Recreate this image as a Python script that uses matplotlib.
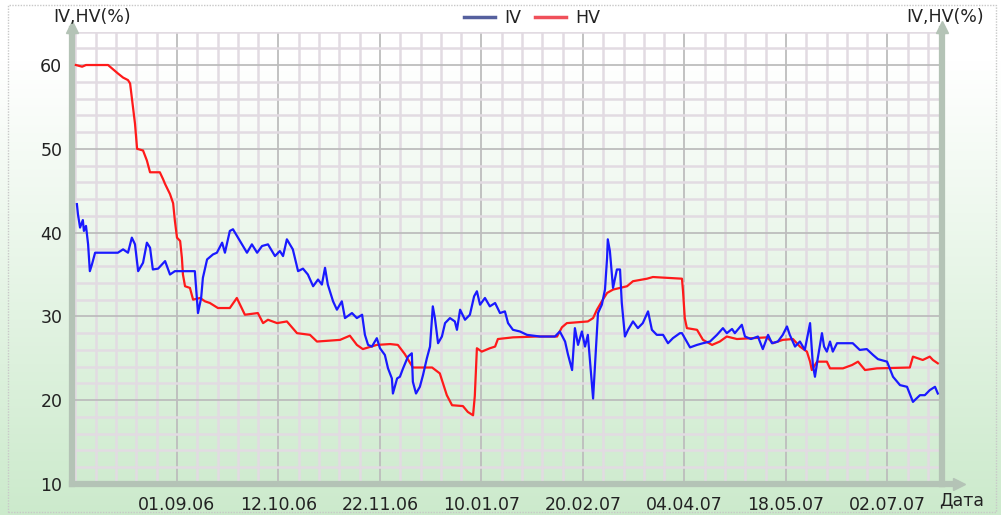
import numpy as np
import matplotlib
matplotlib.use('Agg')
import matplotlib.pyplot as plt
from matplotlib.lines import Line2D

# trading-day position and value (%) of the implied volatility line
iv_day = [1.4, 1.7, 2.3, 3.1, 3.4, 4.0, 4.6, 5.1, 5.7, 6.6, 13.1, 14.6, 16.0, 17.1, 18.0, 18.9,
          20.3, 21.4, 22.3, 23.1, 24.6, 26.6, 28.0, 29.4, 35.1, 36.0, 36.9, 37.4, 38.6, 40.3,
          41.4, 42.9, 43.7, 45.1, 46.0, 48.0, 50.0, 51.4, 52.9, 54.3, 56.0, 58.0, 59.4, 60.3,
          61.4, 63.1, 64.6, 66.0, 67.4, 68.9, 70.3, 71.4, 72.3, 73.1, 74.6, 75.7, 77.1, 78.0,
          80.0, 81.4, 82.9, 83.7, 84.6, 85.7, 87.1, 88.0, 89.4, 90.3, 91.4, 91.7, 92.9, 93.7,
          94.6, 96.0, 97.1, 97.4, 98.3, 99.4, 100.3, 101.4, 102.3, 103.1, 103.7, 104.6, 105.7,
          106.6, 108.0, 109.4, 110.0, 110.9, 112.3, 113.7, 114.9, 115.7, 116.6, 118.0, 119.4,
          120.9, 122.3, 123.7, 124.6, 126.0, 128.0, 130.0, 133.7, 138.0, 139.4, 140.9, 141.7,
          142.9, 143.7, 144.6, 145.7, 146.6, 147.4, 148.6, 148.9, 149.4, 150.3, 151.4, 152.3,
          152.9, 153.1, 153.7, 154.6, 155.7, 156.6, 157.1, 158.0, 158.9, 160.3, 161.7, 163.1,
          164.6, 165.7, 167.1, 168.9, 170.3, 171.7, 173.7, 174.3, 176.6, 178.6, 180.3, 182.3,
          184.3, 186.0, 187.1, 188.6, 189.4, 191.4, 192.3, 194.0, 196.0, 197.4, 198.9, 200.0,
          201.7, 203.1, 204.3, 205.1, 206.6, 208.0, 209.4, 210.9, 211.7, 212.3, 213.1, 214.3,
          214.9, 215.7, 216.6, 217.4, 218.6, 220.3, 223.1, 225.1, 227.1, 228.9, 230.3, 232.9,
          234.6, 236.6, 238.6, 240.3, 242.3, 243.7, 245.1, 246.6, 247.4]
iv_val = [43.4, 42.2, 40.6, 41.5, 40.2, 40.8, 38.6, 35.4, 36.2, 37.6, 37.6, 38.0, 37.6, 39.4, 38.6, 35.4,
          36.4, 38.8, 38.2, 35.6, 35.7, 36.6, 35.0, 35.4, 35.4, 30.4, 32.2, 34.6, 36.8, 37.4,
          37.6, 38.8, 37.6, 40.2, 40.4, 39.0, 37.6, 38.6, 37.6, 38.4, 38.6, 37.2, 37.8, 37.2,
          39.2, 38.0, 35.4, 35.7, 35.0, 33.6, 34.4, 33.8, 35.8, 33.8, 31.8, 30.8, 31.8, 29.8,
          30.4, 29.8, 30.2, 27.8, 26.6, 26.4, 27.4, 26.2, 25.4, 23.8, 22.6, 20.8, 22.6, 22.8,
          23.8, 25.2, 25.6, 22.2, 20.8, 21.6, 23.0, 25.0, 26.4, 31.2, 29.8, 26.8, 27.6,
          29.2, 29.8, 29.4, 28.4, 30.8, 29.6, 30.2, 32.4, 33.0, 31.4, 32.2, 31.2,
          31.6, 30.4, 30.6, 29.2, 28.4, 28.2, 27.8, 27.6, 27.6, 28.2, 27.0, 25.5,
          23.6, 28.6, 26.6, 28.2, 26.4, 27.8, 21.8, 20.2, 23.8, 30.4, 31.4, 33.2,
          37.0, 39.2, 37.8, 33.4, 35.6, 35.6, 31.6, 27.6, 28.4, 29.4, 28.6, 29.2,
          30.6, 28.4, 27.8, 27.8, 26.8, 27.4, 28.0, 28.0, 26.3, 26.6, 26.8, 27.0,
          27.8, 28.6, 28.0, 28.5, 28.0, 29.0, 27.6, 27.3, 27.6, 26.1, 27.8, 26.8,
          27.0, 27.8, 28.8, 27.8, 26.4, 27.0, 26.0, 29.2, 24.2, 22.8, 25.0, 28.0,
          26.4, 25.8, 27.0, 25.8, 26.8, 26.8, 26.8, 26.0, 26.1, 25.4, 24.9, 24.6,
          22.8, 21.8, 21.6, 19.8, 20.6, 20.6, 21.2, 21.6, 20.8]

# trading-day position and value (%) of the historical volatility line
hv_day = [1.1, 2.9, 4.0, 10.3, 11.7, 13.1, 14.6, 16.0, 16.6, 18.0, 18.6, 20.3, 21.4, 22.3, 25.1,
          26.0, 26.6, 28.0, 28.9, 29.4, 30.0, 30.9, 31.4, 31.7, 32.3, 33.7, 34.6, 36.6, 38.0,
          39.4, 41.7, 45.1, 47.1, 49.4, 53.1, 54.6, 56.0, 58.6, 61.4, 64.3, 68.0, 70.0, 76.6,
          79.4, 81.4, 83.1, 87.1, 90.9, 93.1, 95.1, 97.4, 102.9, 105.1, 107.1, 108.6, 111.7,
          113.1, 114.6, 115.1, 115.7, 117.1, 119.4, 120.9, 121.7, 126.0, 132.9, 138.6, 140.0,
          141.4, 147.4, 148.9, 150.0, 151.4, 152.9, 154.6, 158.6, 160.3, 164.3, 166.0, 174.3,
          174.6, 175.1, 175.7, 178.6, 180.3, 182.9, 185.1, 187.1, 190.0, 198.6, 200.3, 203.1,
          206.0, 208.0, 210.0, 210.9, 211.4, 212.9, 215.7, 216.6, 220.3, 222.9, 224.6, 226.6,
          230.0, 239.4, 240.3, 243.1, 245.1, 246.0, 247.4]
hv_val = [60.0, 59.8, 60.0, 60.0, 59.5, 59.0, 58.5, 58.2, 57.8, 53.0, 50.0, 49.8, 48.6, 47.2, 47.2,
          46.4, 45.8, 44.6, 43.5, 41.4, 39.4, 39.0, 37.0, 35.0, 33.6, 33.4, 32.0, 32.2, 31.8,
          31.6, 31.0, 31.0, 32.2, 30.2, 30.4, 29.2, 29.6, 29.2, 29.4, 28.0, 27.8, 27.0, 27.2,
          27.7, 26.6, 26.1, 26.6, 26.7, 26.6, 25.5, 23.9, 23.9, 23.2, 20.6, 19.4, 19.3,
          18.6, 18.2, 20.5, 26.2, 25.8, 26.2, 26.4, 27.3, 27.5, 27.6, 27.6, 28.7,
          29.2, 29.4, 29.8, 30.8, 31.8, 32.8, 33.2, 33.6, 34.2, 34.5, 34.7, 34.5,
          33.0, 29.8, 28.6, 28.4, 27.2, 26.6, 27.0, 27.6, 27.3, 27.5, 26.8, 27.2,
          27.3, 26.4, 25.8, 24.6, 23.6, 24.6, 24.6, 23.8, 23.8, 24.2, 24.6, 23.6,
          23.8, 23.9, 25.2, 24.8, 25.2, 24.8, 24.4]

# date labels on the x axis
tick_days = [30, 59, 88, 117, 146, 175, 204, 233]
tick_labels = ['01.09.06', '12.10.06', '22.11.06', '10.01.07',
               '20.02.07', '04.04.07', '18.05.07', '02.07.07']
y_ticks = [10, 20, 30, 40, 50, 60]

W, H = 1001, 515
axis_color = '#b4c3b6'
text_color = '#222222'
plt.rcParams['font.family'] = ['DejaVu Sans']

fig = plt.figure(figsize=(W / 100, H / 100), dpi=100)

# background gradient, white at the top to light green at the bottom
bg = fig.add_axes([0, 0, 1, 1], zorder=0)
g = np.clip((np.linspace(0, 1, 256) - 0.12) / 0.88, 0, 1)[:, None]
top = np.array([1.0, 1.0, 1.0])
bottom = np.array([204, 234, 204]) / 255
grad = top * (1 - g[..., None]) + bottom * g[..., None]
grad = np.repeat(grad, 2, axis=1)
bg.imshow(grad, aspect='auto', extent=[0, 1, 0, 1], origin='upper')
bg.add_patch(plt.Rectangle((8 / W, 3 / H), 988 / W, 507 / H, fill=False,
                           edgecolor='#c8c8c8', lw=1, ls=(0, (1, 1))))
bg.set_xlim(0, 1)
bg.set_ylim(0, 1)
bg.axis('off')

ax = fig.add_axes([72 / W, 31 / H, 870 / W, 452.5 / H], zorder=1)
ax.set_facecolor('none')

ax.plot(hv_day, hv_val, color='#ff1a1a', lw=1.6, zorder=3)
ax.plot(iv_day, iv_val, color='#1a1aff', lw=1.6, zorder=4)

ax.set_xlim(0, 248.6)
ax.set_ylim(10, 64)

ax.set_xticks(tick_days)
ax.set_xticklabels(tick_labels)
ax.set_xticks(np.arange(1.0, 248.6, 5.8), minor=True)
ax.set_yticks(y_ticks)
ax.set_yticks(np.arange(10, 64.1, 2), minor=True)

ax.grid(which='minor', color='#e2dbe2', lw=1.8, zorder=0)
ax.grid(which='major', color='#bdbdbd', lw=1.3, zorder=1)
ax.set_axisbelow(True)

ax.tick_params(which='both', length=0)
ax.tick_params(axis='y', pad=7, labelsize=12.5, labelcolor=text_color)
ax.tick_params(axis='x', pad=9, labelsize=12.5, labelcolor=text_color)

ax.spines['top'].set_visible(False)
for side in ['left', 'right', 'bottom']:
    ax.spines[side].set_color(axis_color)
    ax.spines[side].set_linewidth(4.5)

# arrows at the ends of the axes
ax.plot([0, 0], [1, 1.005], color=axis_color, lw=4.5, transform=ax.transAxes, clip_on=False)
ax.plot([1, 1], [1, 1.005], color=axis_color, lw=4.5, transform=ax.transAxes, clip_on=False)
ax.plot([0], [1.01], marker='^', ms=9, color=axis_color, transform=ax.transAxes, clip_on=False)
ax.plot([1], [1.01], marker='^', ms=9, color=axis_color, transform=ax.transAxes, clip_on=False)
ax.plot([1, 1.016], [0, 0], color=axis_color, lw=4.5, transform=ax.transAxes, clip_on=False)
ax.plot([1.02], [0], marker='>', ms=9, color=axis_color, transform=ax.transAxes, clip_on=False)

fig.text(92 / W, 1 - 17 / H, 'IV,HV(%)', ha='center', va='center', fontsize=12.5, color=text_color)
fig.text(945 / W, 1 - 17 / H, 'IV,HV(%)', ha='center', va='center', fontsize=12.5, color=text_color)
fig.text(962 / W, 1 - 500 / H, 'Дата', ha='center', va='center', fontsize=12.5, color=text_color)

handles = [Line2D([], [], color='#55609e', lw=2.5), Line2D([], [], color='#f0505a', lw=2.5)]
fig.legend(handles, ['IV', 'HV'], loc='center', bbox_to_anchor=(532 / W, 1 - 18 / H), ncol=2,
           frameon=False, fontsize=12.5, handlelength=1.8, handletextpad=0.5, columnspacing=0.8,
           labelcolor=text_color)

fig.savefig('out.png', dpi=100)
